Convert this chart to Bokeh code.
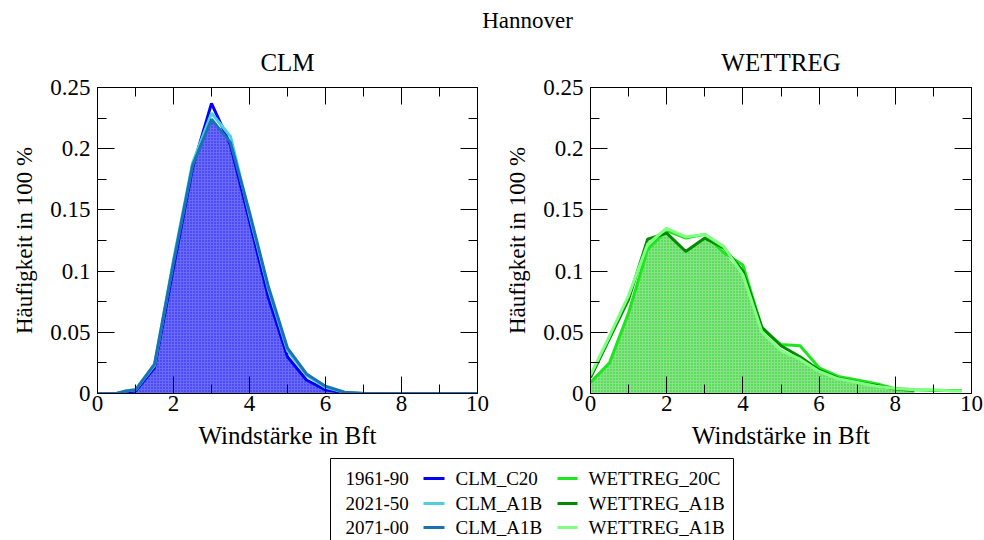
import numpy as np
from bokeh.plotting import figure
from bokeh.layouts import column, row
from bokeh.models import Range1d, LinearAxis, FixedTicker, CustomJSTickFormatter
from bokeh.core.properties import value
from bokeh.embed import file_html
from bokeh.resources import INLINE

FONT = "Liberation Serif"

# ---- data: relative frequency of wind force classes, Hannover ----
clm_bft = [0, 0.5, 0.75, 1.0, 1.5, 2.0, 2.5, 3.0, 3.5, 4.0, 4.5, 5.0, 5.5, 6.0, 6.5, 7.0, 10.0]
clm_c20_1961_90 = [0, 0, 0.001, 0.002, 0.021, 0.103, 0.184, 0.237, 0.203, 0.141, 0.078, 0.030, 0.011, 0.003, 0.0005, 0, 0]
clm_a1b_2021_50 = [0, 0, 0.002, 0.003, 0.023, 0.109, 0.188, 0.229, 0.210, 0.146, 0.085, 0.035, 0.015, 0.005, 0.001, 0, 0]
clm_a1b_2071_00 = [0, 0, 0.002, 0.003, 0.024, 0.107, 0.186, 0.224, 0.205, 0.148, 0.087, 0.037, 0.016, 0.006, 0.001, 0, 0]

wr_bft = [0, 0.5, 1.0, 1.5, 2.0, 2.5, 3.0, 3.5, 4.0, 4.5, 5.0, 5.5, 6.0, 6.5, 7.0, 7.5, 8.0, 8.5, 9.0, 9.5, 9.75]
wr_20c_1961_90 = [0.009, 0.025, 0.066, 0.118, 0.133, 0.127, 0.130, 0.115, 0.105, 0.053, 0.040, 0.039, 0.021, 0.014,
                  0.011, 0.008, 0.004, 0.003, 0.0025, 0.0025, 0.0025]
wr_a1b_2021_50 = [0.013, 0.045, 0.077, 0.126, 0.131, 0.116, 0.127, 0.119, 0.100, 0.054, 0.039, 0.030, 0.019, 0.0125,
                  0.0093, 0.0065, 0.0036, 0.0025]
wr_a1b_2071_00 = [0.015, 0.047, 0.080, 0.122, 0.135, 0.128, 0.130, 0.120, 0.097, 0.050, 0.035, 0.028, 0.018, 0.012,
                  0.009, 0.006, 0.004, 0.003, 0.003, 0.002, 0.002]

periods = ["1961-90", "2021-50", "2071-00"]
clm_names = ["CLM_C20", "CLM_A1B", "CLM_A1B"]
wr_names = ["WETTREG_20C", "WETTREG_A1B", "WETTREG_A1B"]
clm_colors = ["#0000ff", "#4cd0e0", "#1a72b4"]
wr_colors = ["#1ee61e", "#008c00", "#80ff80"]

x_major = [0, 2, 4, 6, 8, 10]
x_minor = [1, 3, 5, 7, 9]
y_major = [0, 0.05, 0.1, 0.15, 0.2, 0.25]
y_minor = [0.025, 0.075, 0.125, 0.175, 0.225]


def style_axis(ax, major, minor, labels):
    ax.ticker = FixedTicker(ticks=major, minor_ticks=minor)
    ax.major_tick_in = 17
    ax.major_tick_out = 0
    ax.minor_tick_in = 9
    ax.minor_tick_out = 0
    ax.major_tick_line_color = "black"
    ax.minor_tick_line_color = "black"
    ax.axis_line_color = "black"
    ax.major_label_text_font = FONT
    ax.major_label_text_color = "black"
    ax.axis_label_text_font = FONT
    ax.axis_label_text_font_style = "normal"
    ax.axis_label_text_color = "black"
    if labels:
        ax.major_label_text_font_size = "23px"
        ax.formatter = CustomJSTickFormatter(code="return String(tick);")
    else:
        ax.major_label_text_font_size = "0px"
        ax.major_label_standoff = 0
        ax.formatter = CustomJSTickFormatter(code="return '';")


def make_panel(left_pad, frame_w, right_pad, title):
    p = figure(frame_width=frame_w, frame_height=306,
               min_border_left=left_pad, min_border_right=right_pad,
               min_border_top=49, min_border_bottom=57,
               x_range=Range1d(0, 10), y_range=Range1d(0, 0.25),
               x_axis_label="Windstärke in Bft", y_axis_label="Häufigkeit in 100 %",
               title=title, output_backend="svg", toolbar_location=None)
    p.title.align = "center"
    p.title.vertical_align = "top"
    p.title.text_font = FONT
    p.title.text_font_size = "25px"
    p.title.text_font_style = "normal"
    p.title.text_color = "black"
    p.title.standoff = 20
    p.grid.visible = False
    p.outline_line_color = "black"
    p.outline_line_alpha = 1
    p.outline_line_width = 1
    style_axis(p.xaxis[0], x_major, x_minor, True)
    style_axis(p.yaxis[0], y_major, y_minor, True)
    p.xaxis[0].major_label_standoff = 2
    p.xaxis[0].axis_label_standoff = 8
    p.xaxis[0].axis_label_text_font_size = "25px"
    p.yaxis[0].major_label_standoff = 7
    p.yaxis[0].axis_label_standoff = 10
    p.yaxis[0].axis_label_text_font_size = "23px"
    top = LinearAxis()
    right = LinearAxis()
    style_axis(top, x_major, x_minor, False)
    style_axis(right, y_major, y_minor, False)
    p.add_layout(top, "above")
    p.add_layout(right, "right")
    return p


# CLM panel
p1 = make_panel(97, 380, 15, "CLM")
clm_series = [clm_c20_1961_90, clm_a1b_2021_50, clm_a1b_2071_00]
p1.varea(x=clm_bft, y1=0, y2=np.minimum.reduce([np.array(s) for s in clm_series]),
         fill_color="#6a6af4", hatch_pattern="dot", hatch_color="#1c1cff", hatch_scale=3, hatch_weight=1.2)
for s, c in zip(clm_series, clm_colors):
    p1.line(clm_bft, s, line_color=c, line_width=3)

# WETTREG panel
p2 = make_panel(98, 381, 13, "WETTREG")
n = len(wr_a1b_2021_50)
wr_env = np.minimum.reduce([np.array(wr_20c_1961_90[:n]), np.array(wr_a1b_2021_50), np.array(wr_a1b_2071_00[:n])])
p2.varea(x=wr_bft[:n], y1=0, y2=wr_env,
         fill_color="#86e486", hatch_pattern="dot", hatch_color="#22d022", hatch_scale=3, hatch_weight=1.2)
p2.line(wr_bft, wr_20c_1961_90, line_color=wr_colors[0], line_width=3)
p2.line(wr_bft[:n], wr_a1b_2021_50, line_color=wr_colors[1], line_width=3)
p2.line(wr_bft, wr_a1b_2071_00, line_color=wr_colors[2], line_width=3)


def blank(h):
    f = figure(width=984, height=h, x_range=Range1d(0, 984), y_range=Range1d(h, 0),
               x_axis_location=None, y_axis_location=None, min_border=0,
               output_backend="svg", toolbar_location=None)
    f.grid.visible = False
    f.outline_line_color = None
    return f


# heading row: station name
head = blank(38)
head.text(x=[527], y=[20], text=["Hannover"], text_font=value(FONT), text_font_size="23px",
          text_align="center", text_baseline="middle", text_color="black")

# legend box below the panels
leg = blank(90)
leg.quad(left=[330], right=[733], top=[7], bottom=[120], fill_color="white", line_color="black", line_width=1)
rows_y = [27, 52, 76]
leg.text(x=[345] * 3, y=rows_y, text=periods, text_font=value(FONT), text_font_size="19px",
         text_baseline="middle", text_color="black")
leg.segment(x0=[423] * 3, x1=[444] * 3, y0=rows_y, y1=rows_y, line_color=clm_colors, line_width=3)
leg.text(x=[455] * 3, y=rows_y, text=clm_names, text_font=value(FONT), text_font_size="19px",
         text_baseline="middle", text_color="black")
leg.segment(x0=[557] * 3, x1=[577] * 3, y0=rows_y, y1=rows_y, line_color=wr_colors, line_width=3)
leg.text(x=[588] * 3, y=rows_y, text=wr_names, text_font=value(FONT), text_font_size="19px",
         text_baseline="middle", text_color="black")

layout = column(head, row(p1, p2), leg)
open("out.html", "w").write(file_html(layout, INLINE))
